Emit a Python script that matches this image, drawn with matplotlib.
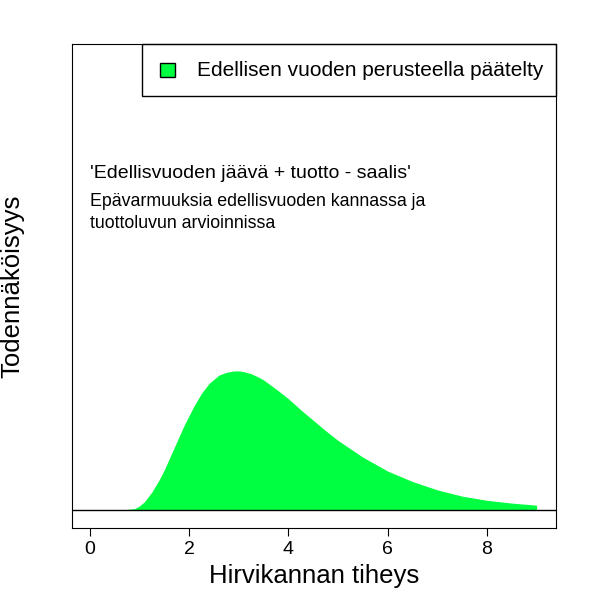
import matplotlib
matplotlib.use("Agg")
import matplotlib.pyplot as plt
from matplotlib.patches import Rectangle

x = [0.6, 0.9, 1.0, 1.1, 1.25, 1.4, 1.5, 1.6, 1.75, 1.9, 2.0, 2.1, 2.25, 2.4, 2.5, 2.6, 2.75, 2.9, 3.0, 3.1, 3.25, 3.4, 3.5, 3.75, 4.0, 4.25, 4.5, 4.75, 5.0, 5.25, 5.5, 5.75, 6.0, 6.5, 7.0, 7.5, 8.0, 8.5, 9.0]
dens = [0.0, 0.01, 0.03, 0.06, 0.13, 0.22, 0.29, 0.37, 0.49, 0.61, 0.68, 0.75, 0.84, 0.91, 0.94, 0.97, 0.99, 1.0, 1.0, 0.995, 0.98, 0.955, 0.935, 0.87, 0.80, 0.72, 0.645, 0.57, 0.50, 0.44, 0.38, 0.33, 0.28, 0.205, 0.145, 0.10, 0.07, 0.05, 0.035]
xticks = [0, 2, 4, 6, 8]
legend_label = "Edellisen vuoden perusteella päätelty"
note1 = "'Edellisvuoden jäävä + tuotto - saalis'"
note2 = "Epävarmuuksia edellisvuoden kannassa ja\ntuottoluvun arvioinnissa"

plt.rcParams['font.family'] = ['Liberation Sans', 'DejaVu Sans']
fig = plt.figure(figsize=(6, 6), dpi=100)
ax = fig.add_axes([72/600, 72/600, 484/600, 484/600])
ax.fill_between(x, 0, dens, color='#00FF40', lw=0)
ax.axhline(0, color='black', lw=1)
ax.set_xlim(-0.36, 9.39)
ax.set_ylim(-0.129, 3.35)
ax.set_yticks([])
ax.set_xticks(xticks)
ax.tick_params(axis='x', labelsize=14, length=6)
ax.set_xlabel("Hirvikannan tiheys", fontsize=18.5)
ax.set_ylabel("Todennäköisyys", fontsize=18.5, labelpad=34)
ax.add_patch(Rectangle((1.05, 2.975), 9.39 - 1.05, 3.35 - 2.975, fill=False, lw=1, clip_on=False))
ax.add_patch(Rectangle((1.42, 3.11), 0.30, 0.105, facecolor='#00FF40', edgecolor='black', lw=1))
ax.text(2.15, 3.16, legend_label, fontsize=15, va='center')
ax.text(0.0, 2.42, note1, fontsize=14, va='center')
ax.text(0.0, 2.14, note2, fontsize=12.8, va='center', linespacing=1.35)
fig.savefig("out.png", dpi=100)
